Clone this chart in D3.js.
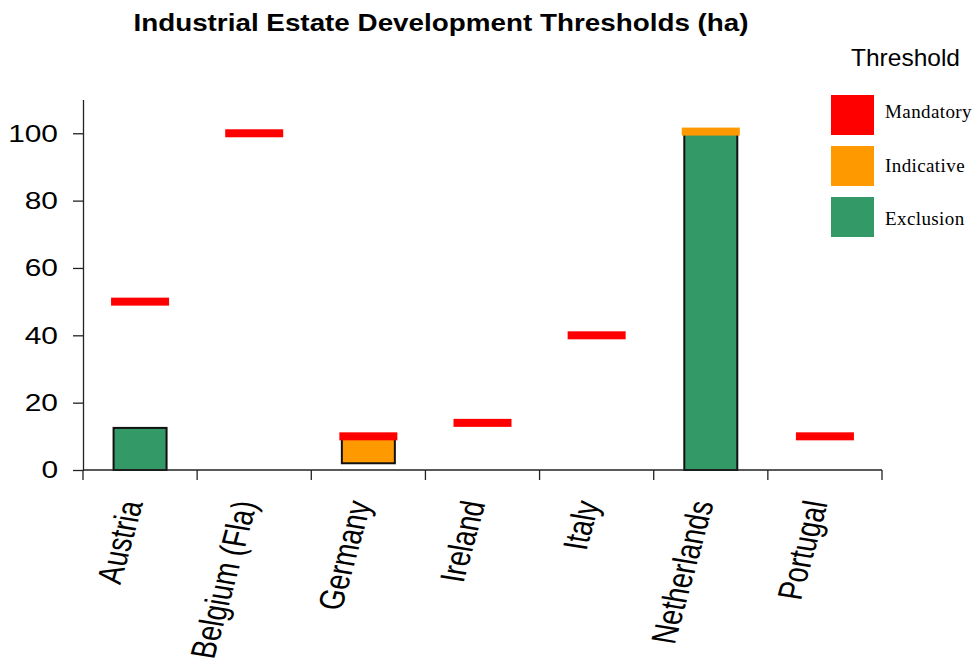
<!DOCTYPE html>
<html>
<head>
<meta charset="utf-8">
<script src="https://cdn.jsdelivr.net/npm/d3@7"></script>
<style>
  body { margin: 0; background: #fff; }
  text { font-family: Arial, "Liberation Sans", sans-serif; fill: #000; }
  text.serif { font-family: "Liberation Serif", "Times New Roman", serif; }
</style>
</head>
<body>
<svg id="chart" width="977" height="664"></svg>
<script>
// data
var categories = ["Austria", "Belgium (Fla)", "Germany", "Ireland", "Italy", "Netherlands", "Portugal"];
var mandatory = [50, 100, 10, 14, 40, null, 10];          // red markers
var indicativeLow = [null, null, 2, null, null, null, null];   // orange floating bar
var indicativeHigh = [null, null, 10, null, null, null, null];
var indicativeMark = [null, null, null, null, null, 100.5, null]; // orange marker
var exclusion = [12.5, null, null, null, null, 100, null];     // green bar from 0
var yTicks = [0, 20, 40, 60, 80, 100];
var legendKeys = ["Mandatory", "Indicative", "Exclusion"];

var colors = {Mandatory: "#ff0000", Indicative: "#ff9900", Exclusion: "#339966"};

var svg = d3.select("#chart");
var stretch = 1.3; // reference text is horizontally stretched

var x = d3.scaleBand()
    .domain(categories)
    .range([83, 882])
    .padding(0);

var y = d3.scaleLinear()
    .domain([0, 110])
    .range([470, 99.6]);

var barW = 53, markW = 58, markH = 8;

// title
svg.append("text")
    .attr("transform", "translate(441,31) scale(1.21,1)")
    .attr("text-anchor", "middle")
    .attr("font-weight", "bold")
    .attr("font-size", 23)
    .text("Industrial Estate Development Thresholds (ha)");

// bars
var rows = categories.map(function(c, i) {
    return {cat: c, man: mandatory[i], lo: indicativeLow[i], hi: indicativeHigh[i],
            im: indicativeMark[i], ex: exclusion[i]};
});

var g = svg.append("g");

g.selectAll(".ex")
    .data(rows.filter(function(d) { return d.ex != null; }))
    .enter().append("rect")
    .attr("class", "ex")
    .attr("x", function(d) { return x(d.cat) + x.bandwidth() / 2 - barW / 2; })
    .attr("y", function(d) { return y(d.ex); })
    .attr("width", barW)
    .attr("height", function(d) { return y(0) - y(d.ex); })
    .attr("fill", colors.Exclusion)
    .attr("stroke", "#111")
    .attr("stroke-width", 2);

g.selectAll(".ind")
    .data(rows.filter(function(d) { return d.lo != null; }))
    .enter().append("rect")
    .attr("class", "ind")
    .attr("x", function(d) { return x(d.cat) + x.bandwidth() / 2 - barW / 2; })
    .attr("y", function(d) { return y(d.hi); })
    .attr("width", barW)
    .attr("height", function(d) { return y(d.lo) - y(d.hi); })
    .attr("fill", colors.Indicative)
    .attr("stroke", "#111")
    .attr("stroke-width", 2);

// markers
g.selectAll(".im")
    .data(rows.filter(function(d) { return d.im != null; }))
    .enter().append("rect")
    .attr("class", "im")
    .attr("x", function(d) { return x(d.cat) + x.bandwidth() / 2 - markW / 2; })
    .attr("y", function(d) { return y(d.im) - markH / 2; })
    .attr("width", markW)
    .attr("height", markH)
    .attr("fill", colors.Indicative);

g.selectAll(".man")
    .data(rows.filter(function(d) { return d.man != null; }))
    .enter().append("rect")
    .attr("class", "man")
    .attr("x", function(d) { return x(d.cat) + x.bandwidth() / 2 - markW / 2; })
    .attr("y", function(d) { return y(d.man) - markH / 2; })
    .attr("width", markW)
    .attr("height", markH)
    .attr("fill", colors.Mandatory);

// y axis
var yAxis = svg.append("g")
    .attr("transform", "translate(83,0)")
    .call(d3.axisLeft(y).tickValues(yTicks).tickSize(10).tickSizeOuter(0).tickFormat(""));
yAxis.selectAll("path, line").attr("stroke", "#222").attr("stroke-width", 1.3);

svg.append("g").selectAll("text")
    .data(yTicks)
    .enter().append("text")
    .attr("transform", function(d) { return "translate(58," + y(d) + ") scale(" + stretch + ",1)"; })
    .attr("dy", "0.36em")
    .attr("text-anchor", "end")
    .attr("font-size", 23)
    .text(function(d) { return d; });

// x axis
var xAxis = svg.append("g");
xAxis.append("line")
    .attr("x1", x.range()[0]).attr("x2", x.range()[1])
    .attr("y1", y(0)).attr("y2", y(0))
    .attr("stroke", "#222").attr("stroke-width", 1.3);
var bounds = categories.map(function(c) { return x(c); }).concat([x.range()[1]]);
xAxis.selectAll(".tk")
    .data(bounds)
    .enter().append("line")
    .attr("x1", function(d) { return d; }).attr("x2", function(d) { return d; })
    .attr("y1", y(0)).attr("y2", y(0) + 10)
    .attr("stroke", "#222").attr("stroke-width", 1.3);

xAxis.selectAll(".lab")
    .data(categories)
    .enter().append("text")
    .attr("transform", function(d) {
        return "translate(" + (x(d) + x.bandwidth() / 2 + 3) + ",503) scale(" + stretch + ",1) rotate(-78)";
    })
    .attr("text-anchor", "end")
    .attr("font-size", 27)
    .text(function(d) { return d; });

// legend
svg.append("text")
    .attr("x", 851)
    .attr("y", 66)
    .attr("font-size", 24.5)
    .text("Threshold");

var legend = svg.append("g").selectAll("g")
    .data(legendKeys)
    .enter().append("g");

legend.append("rect")
    .attr("x", 831)
    .attr("y", function(d, i) { return 95 + i * 51; })
    .attr("width", 43)
    .attr("height", 40)
    .attr("fill", function(d) { return colors[d]; });

legend.append("text")
    .attr("class", "serif")
    .attr("x", 885)
    .attr("y", function(d, i) { return 118 + i * 53.5; })
    .attr("font-size", 19)
    .attr("letter-spacing", 0.4)
    .text(function(d) { return d; });
</script>
</body>
</html>
